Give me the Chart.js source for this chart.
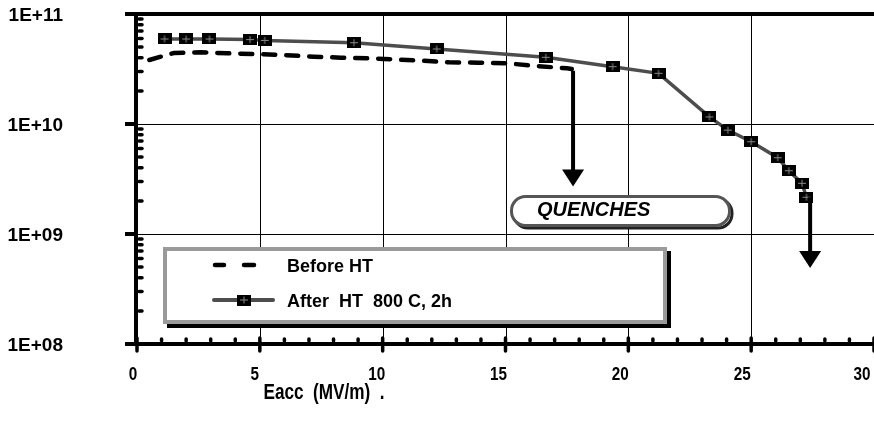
<!DOCTYPE html>
<html>
<head>
<meta charset="utf-8">
<script src="https://cdn.jsdelivr.net/npm/chart.js@4"></script>
<style>
html, body { margin: 0; padding: 0; background: #fff; }
</style>
</head>
<body>
<canvas id="myChart" width="874" height="432"></canvas>
<script>
// Eacc (MV/m) and Q0
const eaccBefore = [0.5, 1.5, 2.6, 3.7, 4.8, 5.9, 7.2, 8.3, 9.4, 10.3, 11.6, 12.7, 13.9, 15.1, 16.2, 17.5, 17.7];
const q0Before = [3.82e10, 4.42e10, 4.49e10, 4.39e10, 4.33e10, 4.24e10, 4.09e10, 4.01e10, 3.96e10, 3.88e10, 3.76e10, 3.64e10, 3.61e10, 3.56e10, 3.37e10, 3.21e10, 3.16e10];

const eaccAfter = [1.12, 2.0, 2.95, 4.6, 5.2, 8.83, 12.2, 16.64, 19.36, 21.23, 23.3, 24.05, 25.0, 26.08, 26.53, 27.07, 27.25];
const q0After = [5.93e10, 5.93e10, 5.93e10, 5.85e10, 5.75e10, 5.48e10, 4.81e10, 4.04e10, 3.32e10, 2.89e10, 1.16e10, 8.8e9, 6.9e9, 4.94e9, 3.76e9, 2.89e9, 2.16e9];

// quench arrows: x, start Q0, tip Q0
const arrowX = [17.75, 27.4];
const arrowFrom = [3.05e10, 2.16e9];
const arrowTo = [2.7e9, 4.9e8];

const xTicks = [0, 5, 10, 15, 20, 25, 30];
const yTicks = [1e8, 1e9, 1e10, 1e11];
const yTickLabels = ['1E+08', '1E+09', '1E+10', '1E+11'];
const legendLabels = ['Before HT', 'After  HT  800 C, 2h'];
const quenchLabel = 'QUENCHES';
const xTitle = 'Eacc  (MV/m)  .';

const FONT = '"Liberation Sans", Arial, Helvetica, sans-serif';

// black square marker with grey cross
const mk = document.createElement('canvas');
mk.width = 14; mk.height = 11;
const m = mk.getContext('2d');
m.fillStyle = '#000';
m.fillRect(0, 0, 14, 11);
m.strokeStyle = '#8a8a8a';
m.lineWidth = 1;
m.beginPath();
m.moveTo(3, 5.5); m.lineTo(11, 5.5);
m.moveTo(7, 2); m.lineTo(7, 9);
m.stroke();

function txt(c, s, x, y, font, align, sx) {
    c.save();
    c.font = font;
    c.fillStyle = '#000';
    c.textAlign = align;
    c.textBaseline = 'middle';
    c.translate(x, y);
    c.scale(sx || 1, 1);
    c.fillText(s, 0, 0);
    c.restore();
}

function line(c, x1, y1, x2, y2, w, color, cap) {
    c.save();
    c.strokeStyle = color || '#000';
    c.lineWidth = w;
    c.lineCap = cap || 'butt';
    c.beginPath();
    c.moveTo(x1, y1);
    c.lineTo(x2, y2);
    c.stroke();
    c.restore();
}

function rrect(c, x, y, w, h, r) {
    c.beginPath();
    c.moveTo(x + r, y);
    c.arcTo(x + w, y, x + w, y + h, r);
    c.arcTo(x + w, y + h, x, y + h, r);
    c.arcTo(x, y + h, x, y, r);
    c.arcTo(x, y, x + w, y, r);
    c.closePath();
}

const decor = {
    id: 'decor',
    beforeDatasetsDraw(chart) {
        const c = chart.ctx, a = chart.chartArea;
        const xs = chart.scales.x, ys = chart.scales.y;
        // grid
        for (const v of [5, 10, 15, 20, 25]) {
            const px = Math.round(xs.getPixelForValue(v)) + 0.5;
            line(c, px, a.top, px, a.bottom, 1);
        }
        for (const v of [1e9, 1e10]) {
            const py = Math.round(ys.getPixelForValue(v)) + 0.5;
            line(c, a.left, py, a.right, py, 1);
        }
    },
    afterDraw(chart) {
        const c = chart.ctx, a = chart.chartArea;
        const xs = chart.scales.x, ys = chart.scales.y;

        // axes and frame
        line(c, 125, a.top, a.right, a.top, 4);
        line(c, a.left - 1, a.top, a.left - 1, a.bottom + 2, 4);
        line(c, 127, a.bottom, a.right, a.bottom, 4);

        // y ticks
        for (let d = 8; d <= 11; d++) {
            const py = ys.getPixelForValue(Math.pow(10, d));
            line(c, 125, py, a.left + 1, py, 4);
            if (d < 11) {
                for (let k = 2; k <= 9; k++) {
                    const q = ys.getPixelForValue(k * Math.pow(10, d));
                    line(c, a.left + 2, q, a.left + 5, q, 3.5, '#000', 'round');
                }
            }
        }
        // x ticks
        for (let v = 0; v <= 30; v++) {
            const px = xs.getPixelForValue(v);
            if (v % 5 === 0) {
                line(c, px, a.bottom - 6, px, a.bottom + 7, 3.5, '#000', 'round');
            } else {
                line(c, px, a.bottom - 5, px, a.bottom - 3, 3.5, '#000', 'round');
            }
        }

        // tick labels
        yTicks.forEach((v, i) => {
            txt(c, yTickLabels[i], 63, ys.getPixelForValue(v) + 2, 'bold 19px ' + FONT, 'right');
        });
        xTicks.forEach(v => {
            const off = v === 30 ? -12 : -4 - v * 0.2;
            txt(c, String(v), xs.getPixelForValue(v) + off, 375, 'bold 18px ' + FONT, 'center', 0.85);
        });
        txt(c, xTitle, 324, 393, 'bold 22px ' + FONT, 'center', 0.78);

        // quench arrows
        arrowX.forEach((v, i) => {
            const px = xs.getPixelForValue(v);
            const y1 = ys.getPixelForValue(arrowFrom[i]);
            const tip = ys.getPixelForValue(arrowTo[i]);
            line(c, px, y1, px, tip - 14, 4);
            c.save();
            c.fillStyle = '#000';
            c.beginPath();
            c.moveTo(px - 11, tip - 17);
            c.lineTo(px + 11, tip - 17);
            c.lineTo(px, tip);
            c.closePath();
            c.fill();
            c.restore();
        });

        // QUENCHES box
        c.save();
        rrect(c, 514, 199, 218, 29, 14);
        c.strokeStyle = '#222';
        c.lineWidth = 3;
        c.stroke();
        rrect(c, 511.5, 196.5, 218, 29, 14);
        c.fillStyle = '#fff';
        c.fill();
        c.strokeStyle = '#555';
        c.lineWidth = 3;
        c.stroke();
        c.restore();
        txt(c, quenchLabel, 537, 210, 'italic bold 20px ' + FONT, 'left');

        // legend
        c.save();
        c.fillStyle = '#000';
        c.fillRect(167, 251, 504, 77);
        c.fillStyle = '#fff';
        c.fillRect(163, 247, 504, 77);
        c.strokeStyle = '#9a9a9a';
        c.lineWidth = 4;
        c.strokeRect(165, 249, 500, 73);
        c.restore();
        line(c, 215, 265, 224, 265, 4.5, '#000', 'round');
        line(c, 244, 265, 254, 265, 4.5, '#000', 'round');
        line(c, 214, 300, 273, 300, 4, '#4d4d4d', 'round');
        c.drawImage(mk, 244 - 7, 300 - 5.5);
        txt(c, legendLabels[0], 287, 267, 'bold 18px ' + FONT, 'left');
        txt(c, legendLabels[1], 287, 302, 'bold 18px ' + FONT, 'left');
    }
};

const ctx = document.getElementById('myChart');

const theChart = new Chart(ctx, {
    type: 'line',
    data: {
        datasets: [{
            label: legendLabels[0],
            data: eaccBefore.map((e, i) => ({ x: e, y: q0Before[i] })),
            borderColor: '#000',
            borderWidth: 4.5,
            borderDash: [12, 11],
            borderCapStyle: 'round',
            pointRadius: 0,
            tension: 0,
            clip: false
        },
        {
            label: legendLabels[1],
            data: eaccAfter.map((e, i) => ({ x: e, y: q0After[i] })),
            borderColor: '#4d4d4d',
            borderWidth: 3.5,
            pointStyle: mk,
            pointRadius: 6,
            tension: 0,
            clip: false
        }]
    },
    options: {
        responsive: false,
        animation: false,
        layout: { autoPadding: false, padding: { left: 137, right: 0, top: 14, bottom: 88 } },
        plugins: {
            legend: { display: false },
            tooltip: { enabled: false }
        },
        scales: {
            x: { type: 'linear', min: 0, max: 30, display: false },
            y: { type: 'logarithmic', min: 1e8, max: 1e11, display: false }
        }
    },
    plugins: [decor]
});
</script>
</body>
</html>
